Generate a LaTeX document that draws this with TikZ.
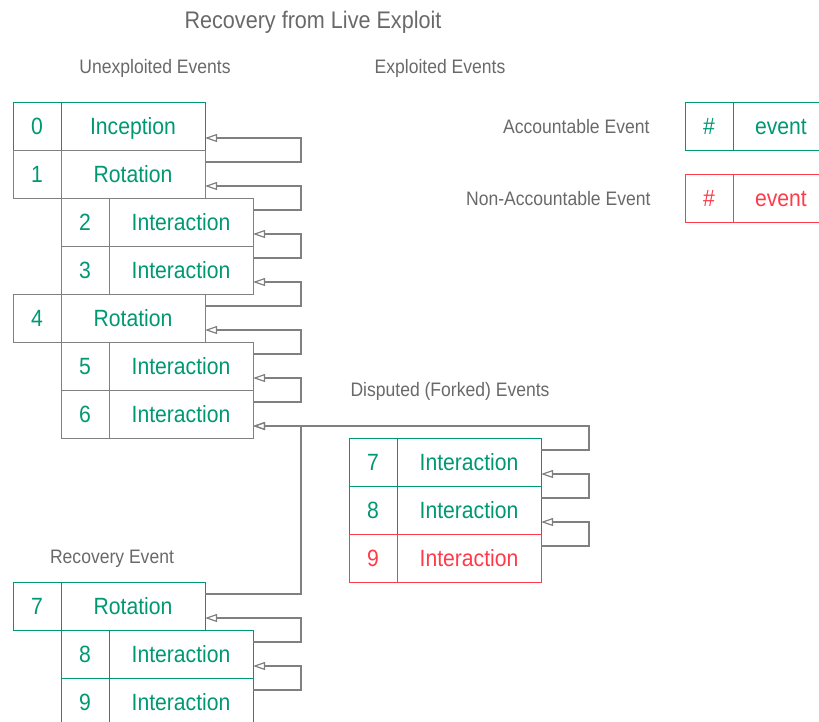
\documentclass[tikz,border=0pt]{standalone}
\usepackage{fontspec}
\setmainfont[FakeStretch=0.9]{Liberation Sans}
\usetikzlibrary{arrows.meta, positioning, calc}
\definecolor{acc}{RGB}{0,152,115}
\definecolor{nonacc}{RGB}{255,58,74}
\definecolor{linkgray}{RGB}{128,128,128}
\definecolor{labelgray}{RGB}{105,105,105}
\tikzstyle{cell} = [draw=linkgray, line width=1pt, outer sep=0pt, inner sep=0pt, minimum height=48pt, text height=17pt, text depth=-1.5pt, text=acc, font=\fontsize{23.5}{24}\selectfont]
\tikzstyle{numcell} = [cell, minimum width=48pt]
\tikzstyle{evcell} = [cell, minimum width=144pt]
\tikzstyle{caption} = [text=labelgray, font=\fontsize{19.5}{20}\selectfont]
\tikzstyle{link} = [draw=linkgray, line width=1.2pt, -{Triangle[open, length=12pt, width=8pt]}]

\begin{document}
\begin{tikzpicture}[x=1pt, y=-1pt]
    \useasboundingbox (0,0) rectangle (819,721);
    % headings
    \node[caption, font=\fontsize{24}{24}\selectfont] (title) at (313,22) {Recovery from Live Exploit};
    \node[caption] (unexp) at (155,68) {Unexploited Events};
    \node[caption] (exp) at (440,68) {Exploited Events};
    \node[caption] (fork) at (450,391) {Disputed (Forked) Events};
    \node[caption] (recov) at (112,559) {Recovery Event};
    % events
    \foreach \id/\px/\py/\k/\ev/\bd/\tx in {
        u0/13/102/0/Inception/acc/acc,
        u1/13/150/1/Rotation/linkgray/acc,
        u2/61/198/2/Interaction/linkgray/acc,
        u3/61/246/3/Interaction/linkgray/acc,
        u4/13/294/4/Rotation/linkgray/acc,
        u5/61/342/5/Interaction/linkgray/acc,
        u6/61/390/6/Interaction/linkgray/acc,
        d7/349/438/7/Interaction/acc/acc,
        d8/349/486/8/Interaction/acc/acc,
        d9/349/534/9/Interaction/nonacc/nonacc,
        r7/13/582/7/Rotation/acc/acc,
        r8/61/630/8/Interaction/acc/acc,
        r9/61/678/9/Interaction/acc/acc} {
      \node[numcell, draw=\bd, text=\tx, anchor=north west] (\id k) at (\px,\py) {\k};
      \node[evcell, draw=\bd, text=\tx, right=0pt of \id k] (\id) {\ev};
      \coordinate (\id out) at ($(\id.north east)!0.5!(\id.east)$);
      \coordinate (\id in) at ($(\id.south east)!0.5!(\id.east)$);
    }
    \coordinate (railU) at (301,0);
    \coordinate (railD) at (589,0);
    \foreach \a/\b/\rail in {u1/u0/railU, u2/u1/railU, u3/u2/railU, u4/u3/railU,
        u5/u4/railU, u6/u5/railU, d7/u6/railD, d8/d7/railD, d9/d8/railD,
        r7/u6/railU, r8/r7/railU, r9/r8/railU}
      \draw[link] (\a out) -- (\a out -| \rail) |- (\b in);
    % legend
    \node[caption, anchor=east] (acclbl) at (653,127) {Accountable Event};
    \node[caption, anchor=east] (nonlbl) at (654,199) {Non-Accountable Event};
    \node[numcell, draw=acc, anchor=north west] (acck) at (685,102) {\#};
    \node[cell, draw=acc, minimum width=96pt, right=0pt of acck] (accev) {event};
    \node[numcell, draw=nonacc, text=nonacc, anchor=north west] (nonk) at (685,174) {\#};
    \node[cell, draw=nonacc, text=nonacc, minimum width=96pt, right=0pt of nonk] (nonev) {event};
\end{tikzpicture}
\end{document}
